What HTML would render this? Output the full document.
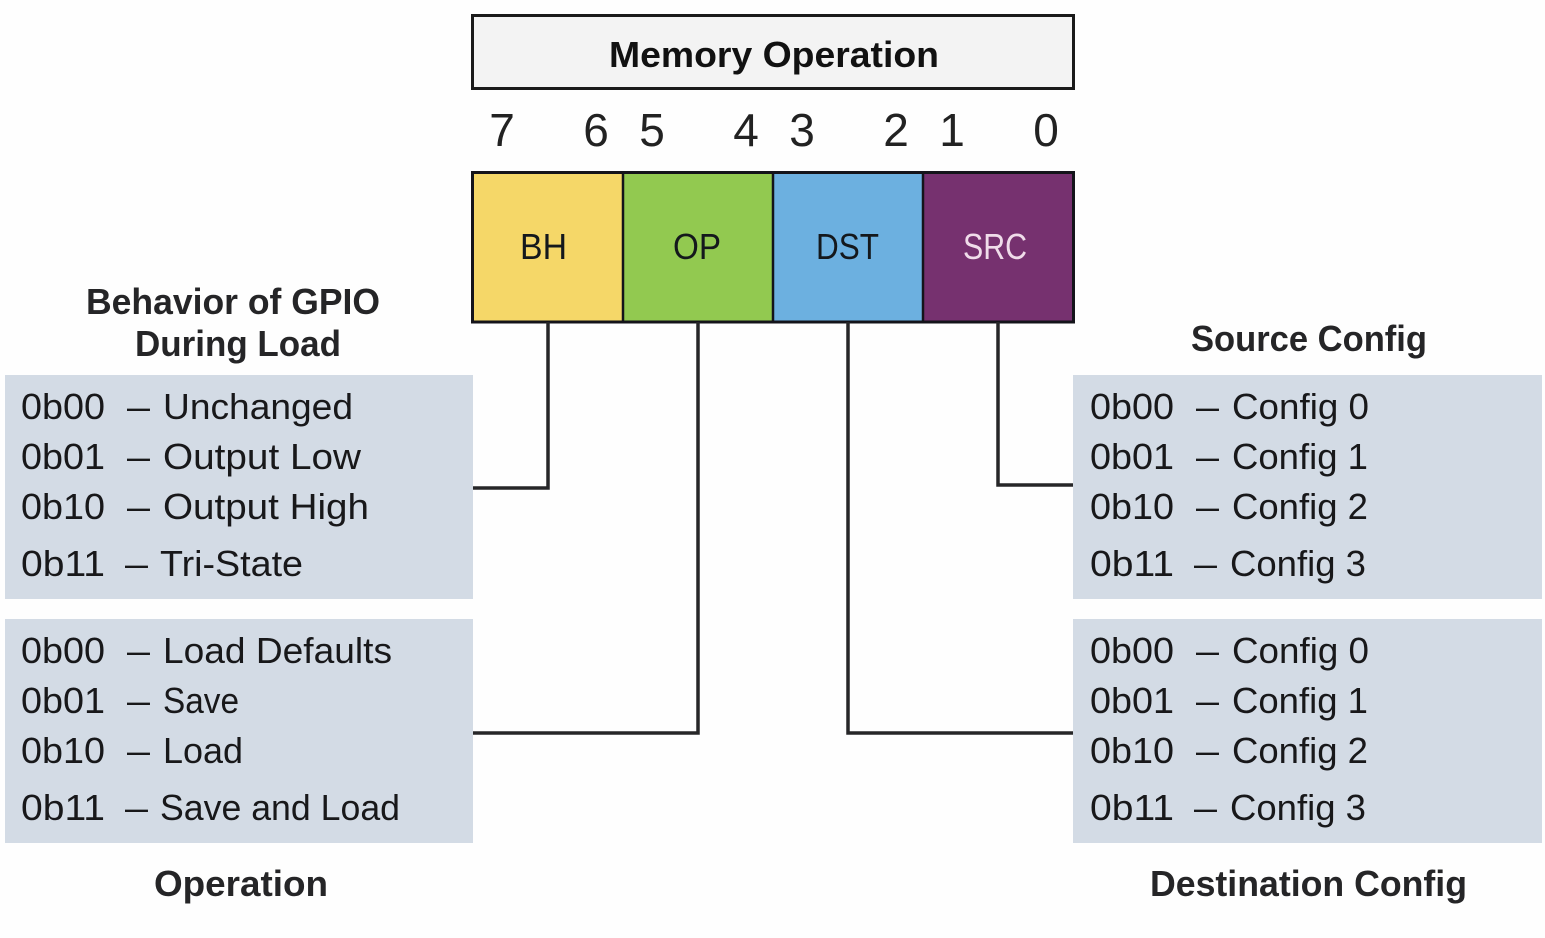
<!DOCTYPE html>
<html>
<head>
<meta charset="utf-8">
<style>
html,body{margin:0;padding:0;background:#fefefe;}
svg{display:block;}
text{font-family:"Liberation Sans",sans-serif;fill:#1d1d1f;}
.h{font-weight:bold;font-size:36px;fill:#252527;}
.d{font-size:46px;fill:#222;text-anchor:middle;}
.r{font-size:36px;fill:#18181a;}
.l{font-size:36px;fill:#14181c;}
</style>
</head>
<body>
<svg width="1545" height="938" viewBox="0 0 1545 938" xmlns="http://www.w3.org/2000/svg">
<rect x="0" y="0" width="1545" height="938" fill="#fefefe"/>

<rect x="472.5" y="15.5" width="601" height="73" fill="#f3f3f3" stroke="#1a1a1a" stroke-width="3"/>
<text class="h" x="609" y="67" textLength="330" lengthAdjust="spacingAndGlyphs" style="fill:#111">Memory Operation</text>

<text class="d" x="502" y="146">7</text>
<text class="d" x="596" y="146">6</text>
<text class="d" x="652" y="146">5</text>
<text class="d" x="746" y="146">4</text>
<text class="d" x="802" y="146">3</text>
<text class="d" x="896" y="146">2</text>
<text class="d" x="952" y="146">1</text>
<text class="d" x="1046" y="146">0</text>

<rect x="472.5" y="172.5" width="150.500" height="149.500" fill="#f5d768"/>
<rect x="623" y="172.5" width="150" height="149.500" fill="#92c950"/>
<rect x="773" y="172.5" width="150" height="149.500" fill="#6cb0e0"/>
<rect x="923" y="172.5" width="150.500" height="149.500" fill="#76316f"/>
<rect x="472.500" y="172.500" width="601" height="149.500" fill="none" stroke="#14141a" stroke-width="3"/>
<path d="M623 172V322M773 172V322M923 172V322" stroke="#14141a" stroke-width="2.500" fill="none"/>
<text class="l" x="520" y="259" textLength="47" lengthAdjust="spacingAndGlyphs">BH</text>
<text class="l" x="673" y="259" textLength="48" lengthAdjust="spacingAndGlyphs">OP</text>
<text class="l" x="816" y="259" textLength="63" lengthAdjust="spacingAndGlyphs">DST</text>
<text class="l" x="963" y="259" textLength="64" lengthAdjust="spacingAndGlyphs" style="fill:#f0dcea">SRC</text>

<rect x="5" y="375" width="468" height="224" fill="#d3dbe5"/>
<rect x="5" y="619" width="468" height="224" fill="#d3dbe5"/>
<rect x="1073" y="375" width="469" height="224" fill="#d3dbe5"/>
<rect x="1073" y="619" width="469" height="224" fill="#d3dbe5"/>

<g fill="none" stroke="#262628" stroke-width="3.500">
<path d="M548 322V488H473"/>
<path d="M698 322V733H473"/>
<path d="M848 322V733H1073"/>
<path d="M998 322V485H1073"/>
</g>

<text class="h" x="86" y="314" textLength="294" lengthAdjust="spacingAndGlyphs">Behavior of GPIO</text>
<text class="h" x="135" y="356" textLength="206" lengthAdjust="spacingAndGlyphs">During Load</text>
<text class="h" x="1191" y="351" textLength="236" lengthAdjust="spacingAndGlyphs">Source Config</text>
<text class="h" x="154" y="896" textLength="174" lengthAdjust="spacingAndGlyphs">Operation</text>
<text class="h" x="1150" y="896" textLength="317" lengthAdjust="spacingAndGlyphs">Destination Config</text>

<!-- Left top -->
<text class="r" x="21" y="419" textLength="84" lengthAdjust="spacingAndGlyphs">0b00</text>
<text class="r" x="127" y="419" textLength="23" lengthAdjust="spacingAndGlyphs">–</text>
<text class="r" x="163" y="419" textLength="190" lengthAdjust="spacingAndGlyphs">Unchanged</text>
<text class="r" x="21" y="469" textLength="84" lengthAdjust="spacingAndGlyphs">0b01</text>
<text class="r" x="127" y="469" textLength="23" lengthAdjust="spacingAndGlyphs">–</text>
<text class="r" x="163" y="469" textLength="198" lengthAdjust="spacingAndGlyphs">Output Low</text>
<text class="r" x="21" y="519" textLength="84" lengthAdjust="spacingAndGlyphs">0b10</text>
<text class="r" x="127" y="519" textLength="23" lengthAdjust="spacingAndGlyphs">–</text>
<text class="r" x="163" y="519" textLength="206" lengthAdjust="spacingAndGlyphs">Output High</text>
<text class="r" x="21" y="576" textLength="84" lengthAdjust="spacingAndGlyphs">0b11</text>
<text class="r" x="125" y="576" textLength="23" lengthAdjust="spacingAndGlyphs">–</text>
<text class="r" x="160" y="576" textLength="143" lengthAdjust="spacingAndGlyphs">Tri-State</text>

<!-- Left bottom -->
<text class="r" x="21" y="663" textLength="84" lengthAdjust="spacingAndGlyphs">0b00</text>
<text class="r" x="127" y="663" textLength="23" lengthAdjust="spacingAndGlyphs">–</text>
<text class="r" x="163" y="663" textLength="229" lengthAdjust="spacingAndGlyphs">Load Defaults</text>
<text class="r" x="21" y="713" textLength="84" lengthAdjust="spacingAndGlyphs">0b01</text>
<text class="r" x="127" y="713" textLength="23" lengthAdjust="spacingAndGlyphs">–</text>
<text class="r" x="163" y="713" textLength="76" lengthAdjust="spacingAndGlyphs">Save</text>
<text class="r" x="21" y="763" textLength="84" lengthAdjust="spacingAndGlyphs">0b10</text>
<text class="r" x="127" y="763" textLength="23" lengthAdjust="spacingAndGlyphs">–</text>
<text class="r" x="163" y="763" textLength="80" lengthAdjust="spacingAndGlyphs">Load</text>
<text class="r" x="21" y="820" textLength="84" lengthAdjust="spacingAndGlyphs">0b11</text>
<text class="r" x="125" y="820" textLength="23" lengthAdjust="spacingAndGlyphs">–</text>
<text class="r" x="160" y="820" textLength="240" lengthAdjust="spacingAndGlyphs">Save and Load</text>

<!-- Right top -->
<text class="r" x="1090" y="419" textLength="84" lengthAdjust="spacingAndGlyphs">0b00</text>
<text class="r" x="1196" y="419" textLength="23" lengthAdjust="spacingAndGlyphs">–</text>
<text class="r" x="1232" y="419" textLength="137" lengthAdjust="spacingAndGlyphs">Config 0</text>
<text class="r" x="1090" y="469" textLength="84" lengthAdjust="spacingAndGlyphs">0b01</text>
<text class="r" x="1196" y="469" textLength="23" lengthAdjust="spacingAndGlyphs">–</text>
<text class="r" x="1232" y="469" textLength="136" lengthAdjust="spacingAndGlyphs">Config 1</text>
<text class="r" x="1090" y="519" textLength="84" lengthAdjust="spacingAndGlyphs">0b10</text>
<text class="r" x="1196" y="519" textLength="23" lengthAdjust="spacingAndGlyphs">–</text>
<text class="r" x="1232" y="519" textLength="136" lengthAdjust="spacingAndGlyphs">Config 2</text>
<text class="r" x="1090" y="576" textLength="84" lengthAdjust="spacingAndGlyphs">0b11</text>
<text class="r" x="1194" y="576" textLength="23" lengthAdjust="spacingAndGlyphs">–</text>
<text class="r" x="1230" y="576" textLength="136" lengthAdjust="spacingAndGlyphs">Config 3</text>

<!-- Right bottom -->
<text class="r" x="1090" y="663" textLength="84" lengthAdjust="spacingAndGlyphs">0b00</text>
<text class="r" x="1196" y="663" textLength="23" lengthAdjust="spacingAndGlyphs">–</text>
<text class="r" x="1232" y="663" textLength="137" lengthAdjust="spacingAndGlyphs">Config 0</text>
<text class="r" x="1090" y="713" textLength="84" lengthAdjust="spacingAndGlyphs">0b01</text>
<text class="r" x="1196" y="713" textLength="23" lengthAdjust="spacingAndGlyphs">–</text>
<text class="r" x="1232" y="713" textLength="136" lengthAdjust="spacingAndGlyphs">Config 1</text>
<text class="r" x="1090" y="763" textLength="84" lengthAdjust="spacingAndGlyphs">0b10</text>
<text class="r" x="1196" y="763" textLength="23" lengthAdjust="spacingAndGlyphs">–</text>
<text class="r" x="1232" y="763" textLength="136" lengthAdjust="spacingAndGlyphs">Config 2</text>
<text class="r" x="1090" y="820" textLength="84" lengthAdjust="spacingAndGlyphs">0b11</text>
<text class="r" x="1194" y="820" textLength="23" lengthAdjust="spacingAndGlyphs">–</text>
<text class="r" x="1230" y="820" textLength="136" lengthAdjust="spacingAndGlyphs">Config 3</text>
</svg>
</body>
</html>
